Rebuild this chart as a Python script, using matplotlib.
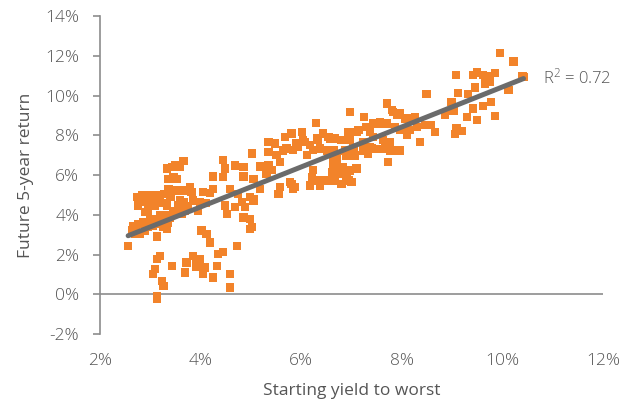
import matplotlib
matplotlib.use('Agg')
import matplotlib.pyplot as plt
import matplotlib.ticker as mticker
import numpy as np

plt.rcParams['font.family'] = ['Open Sans', 'DejaVu Sans']
plt.rcParams['font.weight'] = 'light'
plt.rcParams['mathtext.default'] = 'regular'

# starting yield to worst (%) vs future 5-year return (%)
x_yield = [
    # low-yield cluster
    2.56, 2.63, 2.70, 2.66, 2.76, 2.86, 2.89, 2.99, 3.06, 3.13, 3.19, 3.29, 3.39, 3.26, 3.33, 2.80,
    2.73, 2.83, 2.93, 3.03, 3.13, 3.19, 2.76, 2.89, 2.99, 2.89, 2.96, 3.33,
    3.33, 3.43, 3.49, 3.59, 3.66, 3.36, 3.46, 3.52, 3.36, 3.49, 3.62, 3.72, 3.79, 3.82,
    3.59, 3.66, 3.56, 3.69, 3.85, 3.99, 4.05, 4.19, 3.75, 3.62, 3.95, 4.10,
    2.80, 3.05, 3.10, 3.22, 2.95, 3.05, 2.95, 3.15, 2.72, 3.35, 3.45, 3.40, 3.28,
    4.25, 4.44, 4.49, 4.45, 4.68, 4.49, 4.52, 4.68, 4.75, 4.58, 4.25,
    4.02, 4.12, 4.19, 4.72, 3.13, 3.19, 3.09, 3.06, 3.23, 3.26, 3.43, 3.69, 3.72, 3.85,
    3.92, 3.99, 3.92, 4.05, 4.09, 4.25, 4.32, 4.35, 4.45, 4.58, 4.58, 3.13, 3.13,
    # middle
    5.02, 5.19, 4.85, 4.85, 5.05, 5.18, 5.35, 5.48, 5.51, 5.58, 5.41, 5.31, 5.58, 5.55,
    5.78, 5.84, 5.68, 5.81, 6.01, 5.71, 5.84, 5.94, 6.07, 6.17, 6.11, 6.24, 6.34, 6.44,
    6.54, 6.67, 6.37, 6.51, 6.64, 6.70, 6.61, 6.67, 6.24, 6.21, 6.31, 6.37, 6.17, 6.47,
    6.29, 4.88, 4.98, 5.05, 4.85, 4.98, 4.98, 5.02, 5.05, 4.82,
    5.35, 5.64, 5.91, 6.04, 6.31, 6.57, 6.84, 6.97, 7.10, 6.51, 6.64, 6.71, 6.90, 7.23,
    7.37, 7.43, 7.57, 7.90, 7.96, 7.57, 7.77, 7.96, 6.34, 6.51, 6.71, 6.84, 6.94, 7.10,
    6.64, 5.81, 5.88, 7.80, 7.96, 5.35,
    # upper middle
    8.49, 7.70, 6.97, 7.25, 7.83, 7.97, 8.06, 8.26, 7.43, 7.57, 7.70, 7.30, 7.86, 6.94,
    7.14, 7.37, 8.10, 8.30, 8.46, 8.57, 8.66, 6.80, 6.97, 7.23, 7.63, 7.77, 6.87, 7.04,
    7.40, 7.66, 7.93, 8.36, 7.07, 7.33, 7.73, 6.83, 6.97, 7.10, 6.90, 7.00, 6.80,
    8.23, 8.16, 8.10,
    # high-yield tail
    9.95, 10.22, 9.08, 9.42, 9.49, 9.62, 9.75, 9.85, 9.75, 9.65, 9.46, 10.40, 10.12,
    9.12, 9.32, 8.99, 8.86, 9.03, 9.42, 9.61, 9.77, 9.29, 9.49, 9.85, 9.09, 9.19, 9.06,
    10.42,
]
y_return = [
    2.44, 3.20, 3.03, 3.45, 3.54, 3.62, 3.20, 3.71, 3.79, 2.90, 3.96, 3.96, 3.87, 3.37, 3.29, 3.03,
    4.89, 4.97, 4.97, 4.97, 4.97, 4.89, 4.46, 4.63, 4.63, 4.13, 4.21, 4.46,
    6.32, 6.40, 6.48, 6.40, 6.70, 5.81, 5.89, 5.81, 5.31, 5.22, 5.22, 5.22, 5.39, 5.14,
    4.72, 4.63, 4.46, 4.21, 4.72, 4.63, 5.14, 5.09, 4.45, 4.05, 4.20, 4.60,
    4.80, 4.75, 4.45, 4.60, 4.40, 3.45, 3.40, 3.55, 3.30, 3.60, 4.20, 4.90, 5.05,
    5.93, 6.74, 6.32, 5.89, 6.48, 4.46, 4.05, 4.38, 5.05, 5.31, 5.31,
    3.20, 3.03, 2.61, 2.44, 1.77, 1.94, 1.27, 1.01, 0.68, 0.42, 1.43, 1.10, 1.60, 1.94,
    1.60, 1.77, 1.38, 1.01, 1.35, 0.84, 1.43, 2.02, 2.11, 1.01, 0.34, -0.08, -0.25,
    7.08, 6.43, 6.40, 5.93, 5.81, 5.31, 7.16, 7.58, 7.00, 6.65, 6.24, 6.07, 5.39, 5.05,
    5.65, 5.30, 7.92, 8.09, 8.17, 7.33, 7.25, 7.42, 7.67, 7.50, 7.00, 7.25, 7.75, 8.09,
    7.92, 7.84, 7.33, 7.25, 6.91, 6.57, 6.15, 5.73, 6.24, 5.90, 5.73, 5.48, 5.48, 5.73,
    8.62, 4.38, 4.88, 4.72, 3.87, 3.79, 3.29, 3.37, 4.80, 4.63,
    6.49, 7.24, 7.58, 7.75, 7.83, 7.83, 7.75, 8.17, 8.17, 7.24, 7.24, 6.91, 6.99, 7.24,
    7.41, 7.91, 8.59, 9.01, 8.25, 7.32, 7.24, 7.24, 5.73, 5.73, 6.15, 6.07, 5.73, 6.32,
    6.49, 5.56, 5.39, 9.26, 9.09, 7.66,
    10.07, 9.60, 9.18, 8.93, 9.18, 9.09, 8.84, 8.93, 8.59, 8.67, 8.59, 8.42, 8.42, 8.17,
    8.25, 8.17, 8.17, 8.42, 8.51, 8.51, 8.17, 7.75, 7.75, 7.67, 7.75, 7.67, 7.24, 7.33,
    7.33, 7.33, 7.24, 7.67, 6.99, 7.07, 6.66, 6.40, 6.23, 6.32, 5.90, 5.65, 5.56,
    8.84, 8.25, 8.00,
    12.13, 11.71, 11.04, 11.04, 11.15, 11.04, 10.95, 11.12, 10.70, 10.61, 10.41, 10.95, 10.27,
    10.11, 10.07, 9.69, 9.01, 9.24, 9.35, 9.47, 9.69, 8.93, 8.76, 8.97, 8.35, 8.23, 8.06,
    10.94,
]

# linear trend shown on the chart
trend_slope = 1.006
trend_intercept = 0.37
r_squared = 0.72

x_ticks = [2, 4, 6, 8, 10, 12]
y_ticks = [-2, 0, 2, 4, 6, 8, 10, 12, 14]

text_color = '#555555'
axis_color = '#8c8c8c'

fig = plt.figure(figsize=(6.34, 4.17), dpi=100)
ax = fig.add_axes([0.1577, 0.199, 0.7934, 0.7626])

ax.scatter(x_yield, y_return, marker='s', s=36, color='#F2832A',
           edgecolors='none', zorder=2)

xs = np.array([min(x_yield), max(x_yield)])
ax.plot(xs, trend_slope * xs + trend_intercept, color='#6b6b6b',
        linewidth=3.6, solid_capstyle='round', zorder=3)

ax.text(10.81, 10.93, f"R$^2$ = {r_squared:.2f}", fontsize=12,
        color=text_color, ha='left', va='center')

ax.set_xlim(2, 12)
ax.set_ylim(-2, 14)
ax.set_xticks(x_ticks)
ax.set_yticks(y_ticks)
ax.xaxis.set_major_formatter(mticker.FuncFormatter(lambda v, p: f"{v:.0f}%"))
ax.yaxis.set_major_formatter(mticker.FuncFormatter(lambda v, p: f"{v:.0f}%"))

ax.axhline(0, color=axis_color, linewidth=1.2, zorder=1)
for side in ['top', 'right', 'bottom']:
    ax.spines[side].set_visible(False)
ax.spines['left'].set_color(axis_color)
ax.spines['left'].set_linewidth(1.2)

ax.tick_params(axis='x', length=0, pad=14, labelsize=12.5, labelcolor=text_color)
ax.tick_params(axis='y', length=5, width=1.2, color=axis_color, pad=10,
               labelsize=12.5, labelcolor=text_color)

ax.set_xlabel('Starting yield to worst', fontsize=12.5, color=text_color, labelpad=10)
ax.set_ylabel('Future 5-year return', fontsize=12.5, color=text_color, labelpad=8)

fig.savefig('out.png', dpi=100, facecolor='white')
